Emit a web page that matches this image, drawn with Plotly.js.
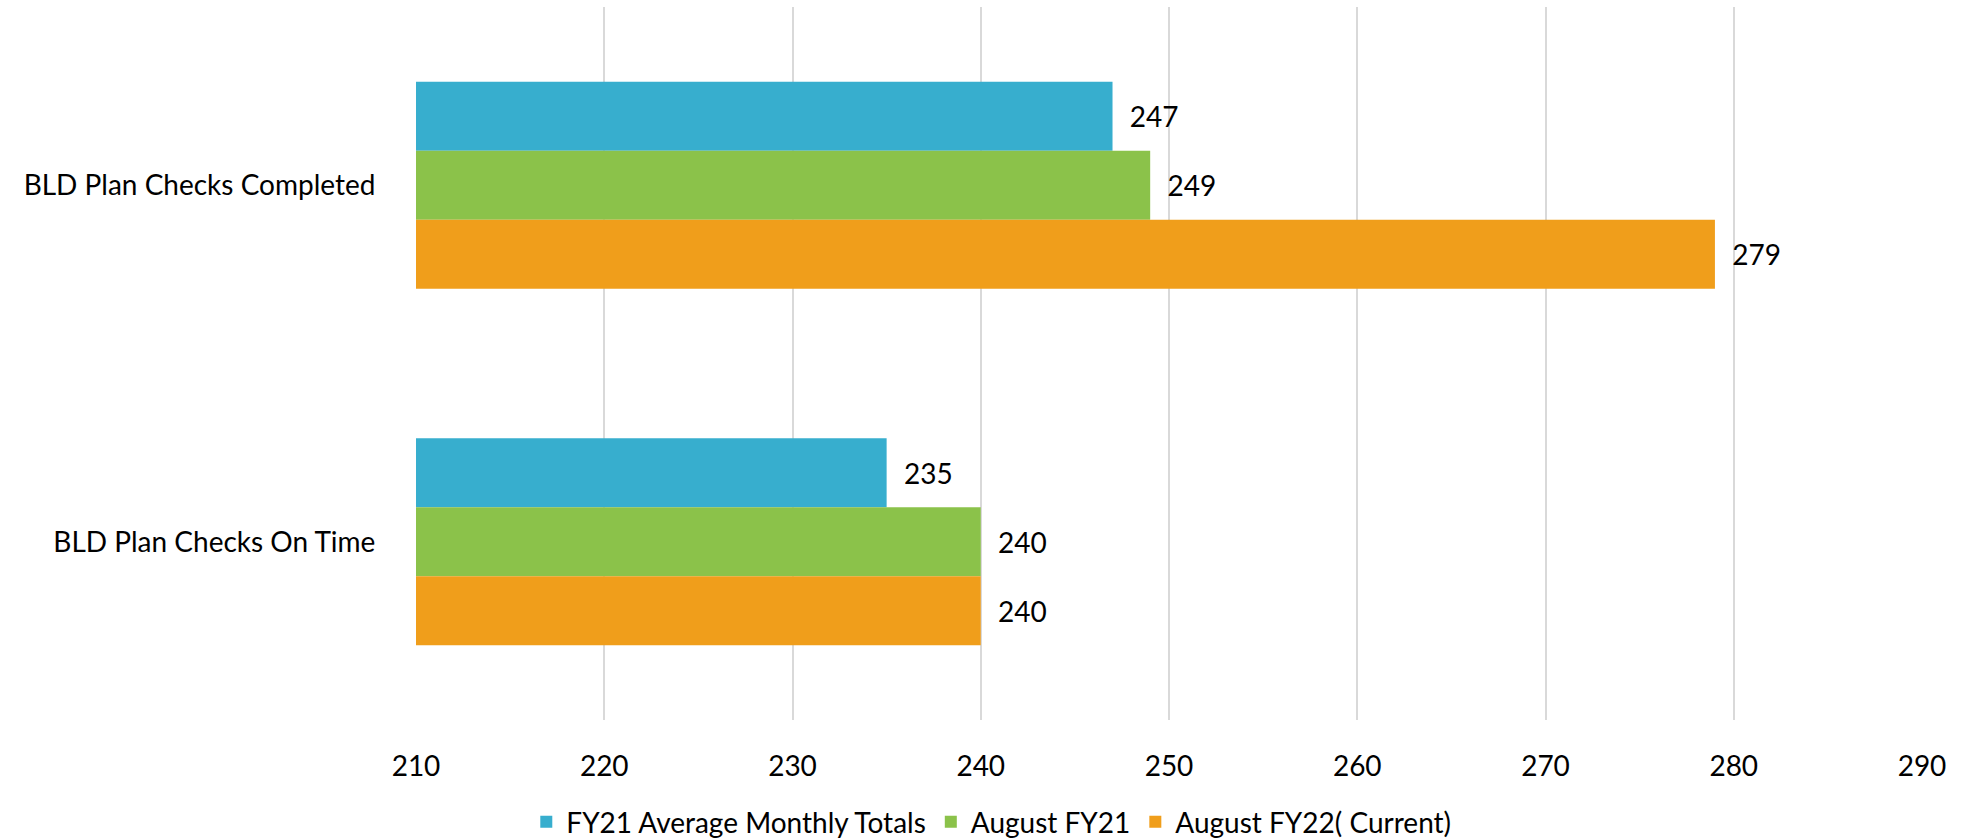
<!DOCTYPE html>
<html>
<head>
<meta charset="utf-8">
<script src="https://cdn.plot.ly/plotly-3.0.1.min.js"></script>
<style>html,body{margin:0;padding:0;background:#fff;}#chart{width:1961px;height:840px;}</style>
</head>
<body>
<div id="chart"></div>
<script>
const categories = ["BLD Plan Checks Completed", "BLD Plan Checks On Time"];
const seriesNames = ["FY21 Average Monthly Totals", "August FY21", "August FY22( Current)"];
const fy21Average = [247, 235];
const augustFY21 = [249, 240];
const augustFY22 = [279, 240];
const xTicks = [210, 220, 230, 240, 250, 260, 270, 280, 290];

const colors = ["#37AECE", "#8BC24A", "#F09E1B"];
const values = [fy21Average, augustFY21, augustFY22];
const FONT = "Lato, 'Open Sans', sans-serif";
const FS = 28;

const traces = values.map((v, i) => ({
  type: "bar",
  orientation: "h",
  name: seriesNames[i],
  y: categories,
  x: v,
  base: 0,
  marker: {color: colors[i]},
  text: v.map(n => "\u00a0\u00a0" + n),
  textposition: "outside",
  cliponaxis: false,
  textfont: {family: FONT, size: FS, color: "#000"},
  hoverinfo: "x"
}));

const layout = {
  width: 1961, height: 840,
  margin: {l: 416, r: 39, t: 7, b: 120, autoexpand: false},
  paper_bgcolor: "#fff", plot_bgcolor: "#fff",
  barmode: "group",
  bargap: 0.42,
  bargroupgap: 0,
  font: {family: FONT, size: FS, color: "#000"},
  xaxis: {
    range: [210, 290],
    tickvals: xTicks,
    ticktext: xTicks.map(String),
    showgrid: true, gridcolor: "#d9d9d9", gridwidth: 2,
    zeroline: false, showline: false,
    ticks: "outside", ticklen: 21, tickcolor: "rgba(0,0,0,0)",
    tickfont: {family: FONT, size: FS, color: "#000"}
  },
  yaxis: {
    autorange: "reversed",
    type: "category",
    showgrid: false, zeroline: false, showline: false,
    ticks: "outside", ticklen: 34, tickcolor: "rgba(0,0,0,0)",
    tickfont: {family: FONT, size: FS, color: "#000"}
  },
  showlegend: true,
  legend: {
    orientation: "h",
    x: 0.382, xanchor: "center",
    y: -0.143, yanchor: "middle",
    traceorder: "normal",
    font: {family: FONT, size: FS, color: "#000"},
    itemwidth: 30
  }
};

Plotly.newPlot("chart", traces, layout, {displayModeBar: false, staticPlot: true});
</script>
</body>
</html>
